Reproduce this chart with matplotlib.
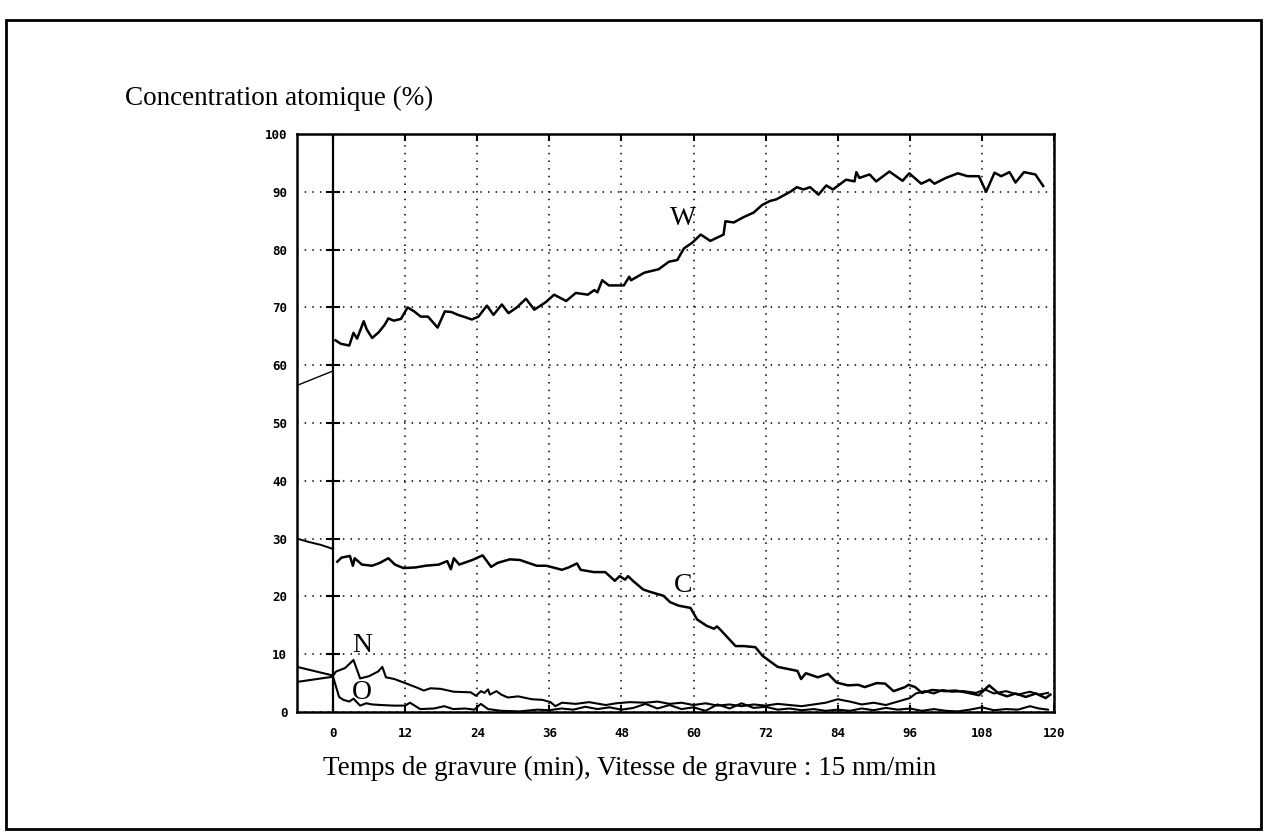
import numpy as np
import matplotlib.pyplot as plt
from matplotlib.patches import Rectangle

# --- data (time in min, atomic %) ---
w_pre_t = [-6, 0]
w_pre = [56.5, 59.0]
c_pre_t = [-6, -4, -2, 0]
c_pre = [30.0, 29.4, 28.9, 28.2]

t_w = [0.4, 1.3, 2.7, 3.4, 4.0, 5.1, 5.6, 6.5, 7.6, 8.6, 9.2, 10.1, 11.3, 12.4, 13.5,
       14.6, 15.8, 17.4, 18.6, 19.7, 20.8, 22.0, 23.1, 24.2, 25.6, 26.7, 28.1, 29.2, 30.6,
       32.1, 33.5, 35.4, 36.8, 38.8, 40.4, 42.4, 43.5, 44.0, 44.8, 45.9, 48.4, 49.3, 49.6,
       51.8, 54.2, 55.9, 57.3, 58.4, 59.8, 61.2, 62.8, 65.0, 65.3, 66.7, 68.3, 70.0, 71.4,
       72.7, 73.8, 76.1, 77.2, 78.3, 79.4, 80.8, 82.1, 83.2, 85.4, 86.8, 87.1, 87.6, 89.3,
       90.4, 92.6, 94.8, 95.9, 97.9, 99.3, 100.1, 102.0, 104.0, 105.6, 107.5, 108.7, 110.1,
       111.2, 112.6, 113.6, 115.0, 116.9, 118.2]
w = [64.3, 63.7, 63.4, 65.6, 64.6, 67.6, 66.2, 64.7, 65.7, 67.0, 68.1, 67.7, 68.0, 70.0, 69.3,
     68.4, 68.4, 66.5, 69.3, 69.2, 68.7, 68.3, 67.9, 68.4, 70.3, 68.7, 70.5, 69.0, 70.0,
     71.5, 69.6, 70.9, 72.2, 71.1, 72.5, 72.2, 73.0, 72.6, 74.7, 73.8, 73.8, 75.3, 74.7,
     76.0, 76.6, 77.9, 78.2, 80.2, 81.2, 82.6, 81.5, 82.6, 84.9, 84.7, 85.6, 86.4, 87.7,
     88.4, 88.7, 90.0, 90.8, 90.4, 90.8, 89.5, 91.1, 90.4, 92.1, 91.8, 93.4, 92.4, 93.0,
     91.8, 93.5, 91.9, 93.2, 91.4, 92.1, 91.4, 92.4, 93.2, 92.7, 92.7, 90.0, 93.3,
     92.7, 93.4, 91.6, 93.4, 93.0, 91.0]

t_c = [0.7, 1.4, 2.8, 3.3, 3.6, 4.8, 6.5, 7.8, 9.2, 10.3, 11.7, 13.7, 15.4, 17.6, 19.0,
       19.6, 20.1, 21.0, 23.2, 24.9, 26.3, 27.4, 29.4, 31.1, 32.2, 33.9, 35.5, 38.1, 39.2,
       40.6, 41.2, 43.4, 45.3, 46.9, 47.7, 48.6, 49.1, 49.9, 51.6, 52.7, 55.0, 56.1, 57.5,
       59.5, 60.6, 62.2, 63.4, 63.9, 64.5, 67.0, 68.4, 70.3, 71.5, 74.0, 77.3, 77.9, 78.7,
       80.7, 82.4, 83.8, 85.7, 87.4, 88.5, 90.5, 91.9, 93.3, 95.2, 95.8, 96.9, 98.0, 99.7,
       102.0, 103.6, 105.3, 107.5, 109.2, 110.8, 112.2, 113.6, 115.3, 117.0, 118.6, 119.4]
c = [26.0, 26.7, 27.0, 25.3, 26.6, 25.5, 25.3, 25.8, 26.6, 25.5, 24.9, 25.0, 25.3, 25.5, 26.1,
     24.7, 26.6, 25.5, 26.3, 27.1, 25.1, 25.8, 26.4, 26.3, 25.9, 25.3, 25.3, 24.6, 25.0,
     25.7, 24.6, 24.2, 24.2, 22.7, 23.5, 22.9, 23.5, 22.7, 21.2, 20.8, 20.1, 19.0, 18.4,
     18.0, 16.0, 14.9, 14.4, 14.8, 14.2, 11.4, 11.4, 11.2, 9.7, 7.8, 7.1, 5.7, 6.7,
     6.0, 6.6, 5.1, 4.6, 4.7, 4.3, 5.0, 4.9, 3.6, 4.3, 4.7, 4.3, 3.3, 3.8,
     3.6, 3.7, 3.4, 2.9, 4.6, 3.2, 2.7, 3.2, 2.6, 3.2, 2.4, 3.0]

t_n = [-6, 0, 0.5, 2.0, 3.4, 4.5, 6.0, 7.5, 8.2, 8.8, 10.2, 12.0, 14.0, 15.1, 16.2, 17.9,
       20.1, 22.9, 23.8, 24.6, 25.2, 25.8, 26.1, 27.2, 28.0, 29.1, 30.8, 33.1, 34.8, 36.2,
       37.0, 38.1, 40.4, 42.6, 45.4, 47.1, 49.4, 52.0, 54.0, 56.0, 58.0, 60.0, 62.0, 64.0,
       66.0, 68.0, 70.0, 72.0, 74.0, 76.0, 78.0, 80.0, 82.0, 84.0, 86.0, 88.0, 90.0, 92.0,
       94.0, 96.0, 97.0, 98.5, 100.0, 101.5, 103.0, 105.0, 107.0, 108.5, 110.0, 112.0,
       114.0, 116.0, 117.5, 119.0]
n = [7.8, 6.3, 7.0, 7.6, 9.0, 5.8, 6.2, 7.0, 7.8, 6.0, 5.7, 5.0, 4.2, 3.7, 4.1, 4.0,
     3.5, 3.4, 2.8, 3.6, 3.3, 3.9, 3.0, 3.6, 3.0, 2.5, 2.7, 2.2, 2.1, 1.7,
     1.0, 1.6, 1.4, 1.7, 1.2, 1.5, 1.7, 1.6, 1.8, 1.4, 1.6, 1.2, 1.5, 1.1,
     1.3, 1.0, 1.3, 1.1, 1.4, 1.2, 1.0, 1.3, 1.6, 2.2, 1.8, 1.3, 1.6, 1.2,
     1.8, 2.4, 3.2, 3.6, 3.2, 3.8, 3.5, 3.6, 3.3, 3.9, 3.2, 3.6,
     3.0, 3.5, 3.0, 3.3]

t_o = [-6, 0, 1.0, 1.7, 2.7, 3.4, 4.5, 5.5, 6.5, 8.0, 10.0, 12.0, 12.8, 14.5, 16.8, 18.5,
       20.0, 22.0, 23.5, 24.6, 25.8, 28.0, 31.0, 34.0, 36.0] + list(np.arange(38, 117, 2.0)) + [117.5, 119.0]
o = [5.2, 6.1, 2.6, 2.1, 1.8, 2.3, 1.1, 1.5, 1.3, 1.2, 1.1, 1.1, 1.6, 0.5, 0.6, 1.0,
     0.5, 0.6, 0.4, 1.4, 0.5, 0.2, 0.1, 0.4, 0.3,
     0.6, 0.4, 0.9, 0.5, 0.8, 0.4, 0.7, 1.4, 0.6, 1.2,
     0.5, 0.8, 0.2, 1.3, 0.6, 1.5, 0.7, 0.9, 0.4, 0.6,
     0.3, 0.5, 0.2, 0.4, 0.2, 0.6, 0.3, 0.7, 0.4, 0.6,
     0.2, 0.5, 0.2, 0.1, 0.4, 0.8, 0.3, 0.5, 0.4, 1.0,
     0.6, 0.4]

labels = ["W", "C", "N", "O"]
label_t = [58.3, 58.3, 4.8, 4.8]
label_v = [85.3, 21.9, 11.5, 3.3]

xticks = np.arange(0, 121, 12)
yticks = np.arange(0, 101, 10)

serif = ["Liberation Serif", "DejaVu Serif"]
mono = {"family": "DejaVu Sans Mono", "weight": "bold", "size": 9}

fig = plt.figure(figsize=(12.65, 8.38), dpi=100)
fig.patches.append(Rectangle((0.005, 0.011), 0.992, 0.965, transform=fig.transFigure,
                             fill=False, edgecolor="black", linewidth=2))

ax = fig.add_axes([0.2348, 0.1504, 0.5984, 0.6897])
lw = 1.8
ax.plot(w_pre_t, w_pre, color="black", lw=1.0)
ax.plot(c_pre_t, c_pre, color="black", lw=1.4)
ax.plot(t_w, w, color="black", lw=lw)
ax.plot(t_c, c, color="black", lw=lw)
ax.plot(t_n, n, color="black", lw=1.5)
ax.plot(t_o, o, color="black", lw=1.5)

for lab, tx, vy in zip(labels, label_t, label_v):
    ax.text(tx, vy, lab, family=serif, fontsize=20, ha="center", va="center")

ax.axvline(0, color="black", lw=1.6)
ax.plot(np.zeros_like(yticks[1:]), yticks[1:], ls="none", marker="_",
        ms=10, mew=1.5, color="black")

ax.set_xlim(-6, 120)
ax.set_ylim(0, 100)
ax.set_xticks(xticks)
ax.set_yticks(yticks)
ax.set_xticklabels([str(v) for v in xticks], fontdict=mono)
ax.set_yticklabels([str(v) for v in yticks], fontdict=mono)
ax.tick_params(axis="y", length=0, pad=7)
ax.tick_params(axis="x", top=True, direction="in", length=5, width=1.5, pad=11)
ax.grid(True, color="black", linestyle=(0, (1, 4)), linewidth=1.1)
for s in ax.spines.values():
    s.set_linewidth(1.8)

fig.text(125 / 1265, 1 - 98 / 838, "Concentration atomique (%)", family=serif,
         fontsize=19.5, ha="left", va="center")
fig.text(630 / 1265, 1 - 768 / 838, "Temps de gravure (min), Vitesse de gravure : 15 nm/min",
         family=serif, fontsize=19.5, ha="center", va="center")

fig.savefig("out.png", dpi=100)
